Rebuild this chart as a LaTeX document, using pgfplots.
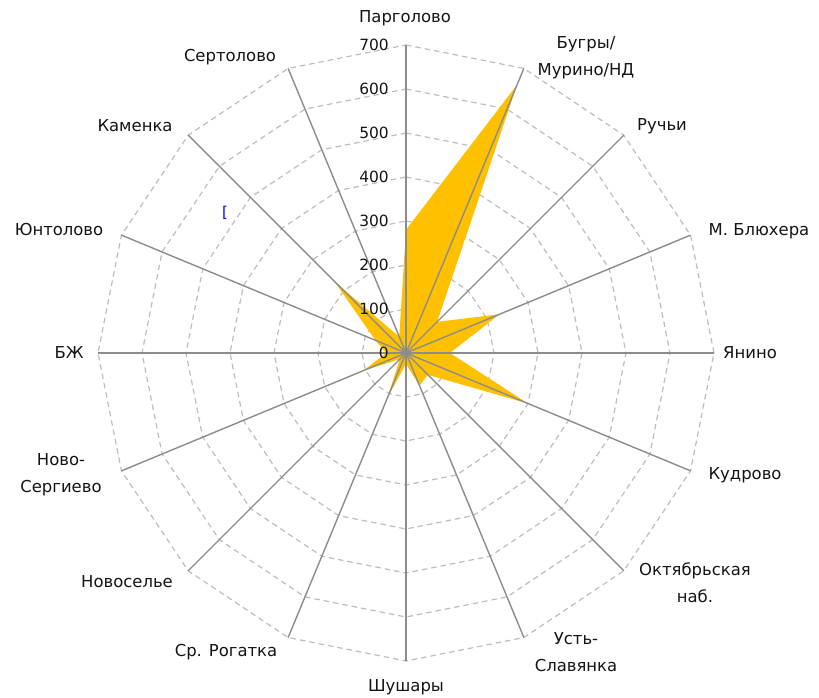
\documentclass[border=0pt]{standalone}
\usepackage{pgfplots}
\pgfplotsset{compat=1.18}
\usepgfplotslibrary{polar}
\usepackage{fontspec}
\setmainfont{DejaVu Sans}
\usetikzlibrary{calc}
\definecolor{fillc}{HTML}{FFC000}
\definecolor{spoke}{HTML}{8C8C8C}
\definecolor{ring}{HTML}{BDBDBD}
\begin{document}
\begin{tikzpicture}[every node/.style={font=\fontsize{16.5}{27}\selectfont, text=black!92}]
\begin{axis}[
  x=0.44bp, y=0.44bp,
  xmin=-800, xmax=800, ymin=-800, ymax=800,
  hide axis,
  data cs=polar,
  clip=false,
]
\pgfplotsinvokeforeach{100,200,300,400,500,600,700}{
  \addplot[ring, line width=1.2bp, dash pattern=on 5.5bp off 4bp] coordinates {(90,#1) (67.5,#1) (45,#1) (22.5,#1) (0,#1) (-22.5,#1) (-45,#1) (-67.5,#1) (-90,#1) (-112.5,#1) (-135,#1) (-157.5,#1) (180,#1) (157.5,#1) (135,#1) (112.5,#1) (90,#1)};
}
\addplot[fill=fillc, draw=none] coordinates {(90,280) (67.5,660) (45,100) (22.5,230) (0,100) (-22.5,300) (-45,70) (-67.5,80) (-90,25) (-112.5,110) (-135,20) (-157.5,105) (180,45) (157.5,75) (135,230) (112.5,40)} -- cycle;
\pgfplotsinvokeforeach{90,67.5,45,22.5,0,-22.5,-45,-67.5,-90,-112.5,-135,-157.5,180,157.5,135,112.5}{
  \addplot[spoke, line width=1.4bp] coordinates {(#1,0) (#1,700)};
}
\coordinate (c) at (axis cs:0,0);
\end{axis}
\begin{scope}[shift={(c)}, x=1bp, y=1bp]
\foreach \k in {0,1,...,7} {
  \node[anchor=east, inner sep=0pt, font=\fontsize{15.5}{18}\selectfont] at (-17, 44*\k) {\pgfmathparse{int(100*\k)}\pgfmathresult};
}
\node at (-1,335) {Парголово};
\node[align=center] at (180,295) {Бугры/\\Мурино/НД};
\node at (256,227) {Ручьи};
\node at (353,122) {М. Блюхера};
\node at (344,0) {Янино};
\node at (339,-122) {Кудрово};
\node[align=center] at (289,-230) {Октябрьская\\наб.};
\node[align=center] at (170,-299) {Усть-\\Славянка};
\node at (0,-334) {Шушары};
\node at (-180,-299) {Ср. Рогатка};
\node at (-279,-229) {Новоселье};
\node[align=center] at (-345,-122) {Ново-\\Сергиево};
\node at (-337,0) {БЖ};
\node at (-347,123) {Юнтолово};
\node at (-271,227) {Каменка};
\node at (-176,296) {Сертолово};
\node[text=blue, font=\fontsize{15}{16}\selectfont] at (-181,140) {[};
\end{scope}
\pgfresetboundingbox
\path ($(c)+(-406bp,-345bp)$) rectangle ($(c)+(413bp,353bp)$);
\end{tikzpicture}
\end{document}
